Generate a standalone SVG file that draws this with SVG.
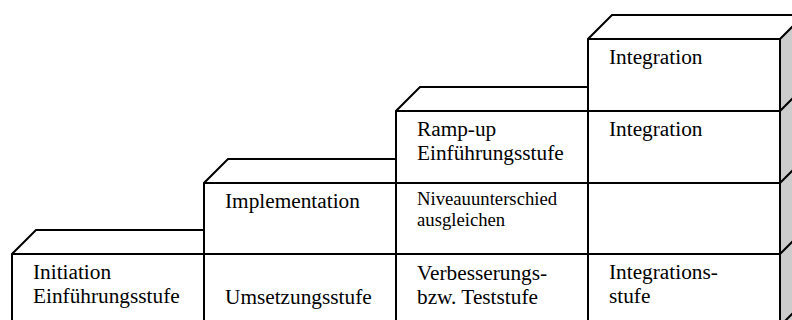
<svg xmlns="http://www.w3.org/2000/svg" width="792" height="320" viewBox="0 0 792 320">
  <style>
    .edge { fill: none; stroke: #000; stroke-width: 2; }
    .side { fill: #cccccc; stroke: none; }
    .lbl { font-family: "Liberation Serif", "Times New Roman", serif; font-size: 21.3px; fill: #000; }
    .sm { font-size: 18.7px; }
  </style>
  <rect width="792" height="320" fill="#fff"/>

  <!-- shaded right-hand face of the tallest column -->
  <polygon class="side" points="780,39 804,15 804,330 780,330"/>

  <!-- step 1: Initiation -->
  <g id="step-initiation">
    <path class="edge" d="M12,330 V254 L36,230 H204 M12,254 H204"/>
    <text class="lbl" x="33" y="279">Initiation</text>
    <text class="lbl" x="33" y="303">Einführungsstufe</text>
  </g>

  <!-- step 2: Implementation -->
  <g id="step-implementation">
    <path class="edge" d="M204,330 V183 L228,159 H396 M204,183 H396 M204,254 H396"/>
    <text class="lbl" x="225" y="208">Implementation</text>
    <text class="lbl" x="225" y="304">Umsetzungsstufe</text>
  </g>

  <!-- step 3: Ramp-up -->
  <g id="step-rampup">
    <path class="edge" d="M396,330 V111 L420,87 H588 M396,111 H588 M396,183 H588 M396,254 H588"/>
    <text class="lbl" x="417" y="136">Ramp-up</text>
    <text class="lbl" x="417" y="160">Einführungsstufe</text>
    <text class="lbl sm" x="417" y="205">Niveauunterschied</text>
    <text class="lbl sm" x="417" y="226">ausgleichen</text>
    <text class="lbl" x="417" y="280">Verbesserungs-</text>
    <text class="lbl" x="417" y="304">bzw. Teststufe</text>
  </g>

  <!-- step 4: Integration column -->
  <g id="step-integration">
    <path class="edge" d="M588,330 V39 L612,15 H804 M588,39 H780 M588,111 H780 M588,183 H780 M588,254 H780 M780,330 V39"/>
    <path class="edge" d="M780,39 L804,15 M780,111 L804,87 M780,183 L804,159 M780,254 L804,230 M780,326 L804,302"/>
    <text class="lbl" x="609" y="64">Integration</text>
    <text class="lbl" x="609" y="136">Integration</text>
    <text class="lbl" x="609" y="279">Integrations-</text>
    <text class="lbl" x="609" y="303">stufe</text>
  </g>
</svg>
